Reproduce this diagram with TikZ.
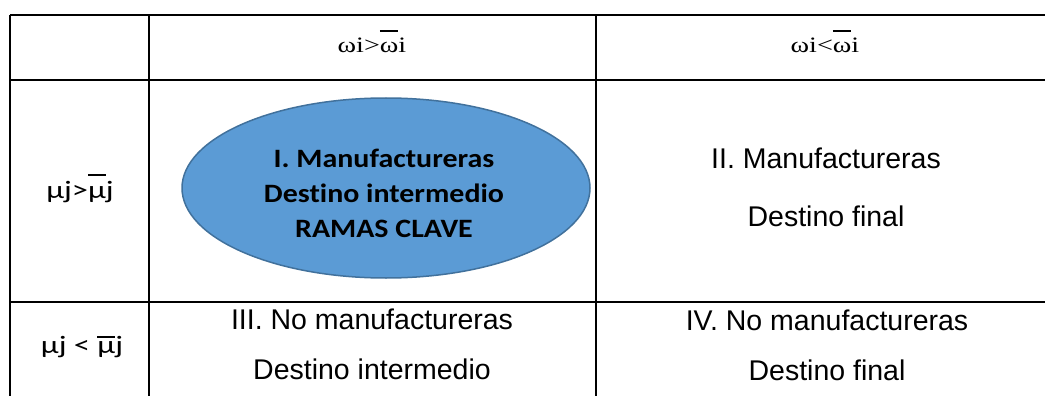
\documentclass[tikz,border=0pt]{standalone}
\usepackage{fontspec}
\usetikzlibrary{shapes.geometric}
\newfontfamily\tabsans{Liberation Sans}
\newfontfamily\tabserif[FakeStretch=1.28]{Liberation Serif}
\newfontfamily\tabcal[FakeStretch=1.13,Ligatures={NoCommon,NoRequired,NoContextual}]{Carlito}
\newfontfamily\tabmu[FakeStretch=1.3]{Carlito}
\definecolor{ellfill}{HTML}{5B9BD5}
\definecolor{elldraw}{HTML}{41719C}
% #1 = height of the bar above the baseline, #2 = barred text
\newcommand{\barup}[2]{\sbox0{#2}\rlap{\raisebox{#1}{\rule{\wd0}{1.8pt}}}\usebox0}
\begin{document}
\begin{tikzpicture}[x=1pt,y=-1pt,
  gridline/.style={line width=2pt, black},
  hdr/.style={font=\tabserif\fontsize{22}{26}\selectfont, anchor=base, inner sep=0pt},
  rowlab/.style={font=\tabmu\fontsize{25}{30}\selectfont, anchor=base, inner sep=0pt},
  celltxt/.style={font=\tabsans\fontsize{28.5}{34}\selectfont, anchor=base, inner sep=0pt},
  keybox/.style={ellipse, fill=ellfill, draw=elldraw, line width=1.5pt,
    minimum width=408pt, minimum height=180pt, inner sep=0pt},
  keytext/.style={align=center, inner sep=0pt,
    font=\tabcal\bfseries\fontsize{26.5}{35}\selectfont}]
\useasboundingbox (0,0) rectangle (1045,396);
% grid
\draw[gridline] (10,15) -- (1045,15);
\draw[gridline] (10,80) -- (1045,80);
\draw[gridline] (10,302) -- (1045,302);
\draw[gridline] (10,15) -- (10,396);
\draw[gridline] (149,15) -- (149,396);
\draw[gridline] (596,15) -- (596,396);
% headers
\node[hdr] (h1) at (372,53) {ωi>\barup{21.5pt}{ω}i};
\node[hdr] (h2) at (825,53) {ωi<\barup{21.5pt}{ω}i};
\node[rowlab] (r1) at (80,198) {μj>\barup{22pt}{μ}j};
\node[rowlab] (r2) at (82,353) {μj < \barup{15pt}{μ}j};
% cells
\node[keybox] (c1) at (386,188) {};
\node[keytext] (c1t) at (384,193) {I. Manufactureras\\Destino intermedio\\RAMAS CLAVE};
\node[celltxt] (c2a) at (826,168) {II. Manufactureras};
\node[celltxt] (c2b) at (826,226) {Destino final};
\node[celltxt] (c3a) at (372,329) {III. No manufactureras};
\node[celltxt] (c3b) at (372,379) {Destino intermedio};
\node[celltxt] (c4a) at (827,330) {IV. No manufactureras};
\node[celltxt] (c4b) at (827,380) {Destino final};
\end{tikzpicture}
\end{document}
